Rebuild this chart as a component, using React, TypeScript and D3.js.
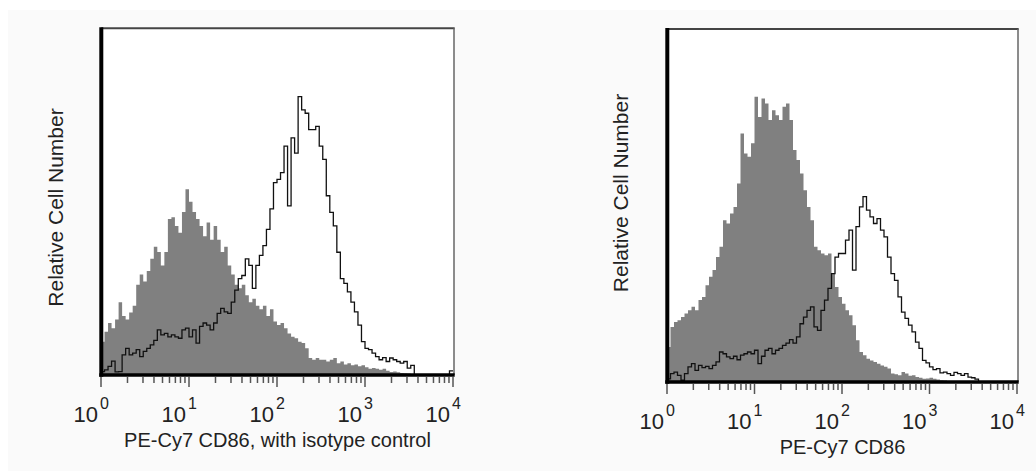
import React from "react";
import * as d3 from "d3";

// Histogram data: 100 log-spaced bins between 10^0 and 10^4, values as % of plot height
const leftIsotype = [
  9.6, 12.5, 15, 13.5, 16, 21, 17, 16, 18, 20,
  26, 29, 27, 30, 33.5, 37, 35.5, 31.6, 35.5, 45,
  45.5, 43, 41, 47, 53.6, 50, 47, 45, 43, 40,
  44, 39, 43, 39, 35.5, 37, 31.6, 29, 26, 25,
  26, 23, 21, 22, 20, 19, 20, 17, 19, 15.4,
  14.4, 15, 13.5, 12, 11, 10.6, 9.6, 9.2, 7.7, 4.9,
  4.4, 4.9, 4.4, 4.4, 3.9, 4.4, 4.9, 3.4, 3.9, 3,
  3.4, 2.8, 3, 2.5, 2.8, 2.2, 1.8, 2, 1.8, 1.5,
  1.8, 1.2, 0.9, 1, 0.8, 0.6, 0.5, 0.4, 0.3, 0.3,
  0.2, 0.2, 0.1, 0.1, 0, 0, 0, 0, 0, 0,
];
const leftStained = [
  1, 1.5, 2.5, 4, 0.9, 1, 5.8, 7.7, 5.8, 6.3,
  7.3, 5.3, 6.8, 7.7, 8.7, 10, 13, 11.6, 12, 11,
  11.6, 11, 10.6, 13, 13.5, 11, 13, 9.2, 14, 15,
  14.4, 13, 15, 17.8, 19.2, 18.2, 17.8, 21, 24.5, 27.8,
  28.7, 33.5, 31.6, 25, 31.6, 34.5, 37.3, 42, 47.9, 55.5,
  56.4, 58.4, 66, 48.8, 68.4, 64, 80.3, 76.5, 75.5, 70.8,
  70.8, 71.7, 66, 62.2, 51.7, 46.9, 43, 35.4, 27.8, 26.4,
  24, 21, 18.2, 14.4, 9.6, 7.7, 7.3, 6.3, 5.3, 4.4,
  5, 3.9, 4.9, 4.4, 3.9, 3.4, 3.9, 2, 2.8, 0,
  0, 0, 0, 0, 0, 0, 0, 0, 0, 1.2,
];
const rightIsotype = [
  9.9, 15.6, 17, 17.5, 18.4, 19.4, 20.3, 21.3, 20.3, 23.2,
  24.1, 27.4, 29.8, 31.7, 35.4, 38.3, 45.8, 44.9, 47.7, 49.6,
  56.2, 70.4, 64.7, 63.8, 67.6, 80.8, 75.1, 80.3, 78.9, 74.2,
  77, 75.6, 74.2, 78, 78.9, 74.2, 65.7, 62.9, 59.1, 54.3,
  49.6, 45.8, 38.3, 37.3, 36.4, 35.9, 36.4, 30.7, 26.9, 24.1,
  22.2, 20.3, 18.9, 16.1, 11.8, 8.5, 7.6, 6.6, 6.1, 5.7,
  5.2, 4.7, 4.3, 3.8, 2.4, 2.2, 1.9, 2.8, 2.4, 1.8,
  1.9, 1.4, 1.2, 0.9, 1, 1.2, 0.9, 0.7, 0.5, 0.4,
  0.3, 0.2, 0.2, 0.1, 0, 0, 0, 0, 0, 0,
  0, 0, 0, 0, 0, 0, 0, 0, 0, 0,
];
const rightStained = [
  0.9, 2.4, 2.8, 1.9, 0.5, 2.4, 4.3, 5.2, 3.3, 4.7,
  4.1, 4.4, 3.8, 4.7, 5.7, 8.5, 8, 7.1, 6.6, 7.3,
  6.3, 7.6, 8, 8.5, 8, 9, 5.2, 7.3, 9, 9.5,
  8, 9, 9.5, 10.4, 11, 12, 11, 12.8, 16.5, 18.4,
  20.3, 21.3, 15.6, 14.6, 20.3, 23.2, 26.5, 30.7, 35.4, 36.4,
  36.4, 40.2, 43, 31.7, 44, 49.6, 52.5, 48.7, 46.8, 44.9,
  46.3, 43, 41.1, 35.4, 30.7, 28.8, 24.1, 19.8, 18, 16.1,
  14.2, 11.3, 9.5, 6.1, 5.4, 4.3, 3.5, 3.8, 2.6, 2.8,
  2.4, 1.9, 2.7, 2.4, 1.9, 2.4, 1.4, 1.2, 0.8, 0,
  0, 0, 0, 0, 0, 0, 0, 0, 0, 0,
];

const decadeExponents = [0, 1, 2, 3, 4];
const minorMultipliers = [2, 3, 4, 5, 6, 7, 8, 9];
const yLabel = "Relative Cell Number";
const leftTitle = "PE-Cy7 CD86, with isotype control";
const rightTitle = "PE-Cy7 CD86";

const FONT = "'Liberation Sans', Arial, Helvetica, sans-serif";

type PanelProps = {
  x0: number;
  x1: number;
  top: number;
  bottom: number;
  right: number;
  filled: number[];
  outline: number[];
  title: string;
  yLabelX: number;
  yLabelY: number;
};

function toPoints(values: number[]) {
  const n = values.length;
  const pts = values.map((v, i) => ({ x: Math.pow(10, (4 * i) / n), v }));
  pts.push({ x: 1e4, v: values[n - 1] });
  return pts;
}

function Panel(p: PanelProps) {
  const x = d3.scaleLog().domain([1, 1e4]).range([p.x0, p.x1]);
  const y = d3.scaleLinear().domain([0, 100]).range([p.bottom, p.top]);
  const area = d3
    .area<{ x: number; v: number }>()
    .x((d) => x(d.x))
    .y0(p.bottom)
    .y1((d) => y(d.v))
    .curve(d3.curveStepAfter);
  const line = d3
    .line<{ x: number; v: number }>()
    .x((d) => x(d.x))
    .y((d) => y(d.v))
    .curve(d3.curveStepAfter);

  const minorTicks: number[] = [];
  decadeExponents.slice(0, 4).forEach((e) =>
    minorMultipliers.forEach((m) => minorTicks.push(m * Math.pow(10, e)))
  );
  const axisX = p.x0 + 0.3;
  return (
    <g>
      <rect x={axisX} y={p.top} width={p.right - axisX} height={p.bottom - p.top} fill="#ffffff" />
      <path d={area(toPoints(p.filled)) || ""} fill="#808080" />
      <path d={line(toPoints(p.outline)) || ""} fill="none" stroke="#111" strokeWidth={1.3} />
      {/* frame */}
      <line x1={axisX} x2={p.right + 0.7} y1={p.top} y2={p.top} stroke="#444" strokeWidth={2} />
      <line x1={p.right} x2={p.right} y1={p.top} y2={p.bottom} stroke="#666" strokeWidth={1.5} />
      <line x1={axisX} x2={axisX} y1={p.top - 1} y2={p.bottom + 1.7} stroke="#000" strokeWidth={4} />
      <line x1={axisX - 2} x2={p.right + 0.7} y1={p.bottom} y2={p.bottom} stroke="#000" strokeWidth={3.5} />
      {/* ticks */}
      {minorTicks.map((t) => (
        <line key={"m" + t} x1={x(t)} x2={x(t)} y1={p.bottom + 2} y2={p.bottom + 8} stroke="#555" strokeWidth={1.5} />
      ))}
      {decadeExponents.map((e) => (
        <line key={"M" + e} x1={x(Math.pow(10, e))} x2={x(Math.pow(10, e))} y1={p.bottom + 2} y2={p.bottom + 12} stroke="#555" strokeWidth={1.5} />
      ))}
      {decadeExponents.map((e) => {
        const tx = x(Math.pow(10, e));
        return (
          <g key={"L" + e} fill="#222" fontFamily={FONT}>
            <text x={tx - 3} y={p.bottom + 47} fontSize={22} textAnchor="end">10</text>
            <text x={tx - 1} y={p.bottom + 34} fontSize={16} textAnchor="start">{String(e)}</text>
          </g>
        );
      })}
      <text
        x={(p.x0 + p.right) / 2}
        y={p.bottom + 72}
        fontSize={20}
        textAnchor="middle"
        fontFamily={FONT}
        fill="#222"
      >
        {p.title}
      </text>
      <text
        transform={`translate(${p.yLabelX},${p.yLabelY}) rotate(-90)`}
        fontSize={21}
        textAnchor="middle"
        fontFamily={FONT}
        fill="#222"
      >
        {yLabel}
      </text>
    </g>
  );
}

export default function App() {
  return (
    <svg
      width={1036}
      height={471}
      style={{ position: "absolute", left: 0, top: 0, display: "block" }}
    >
      <rect x={0} y={0} width={1036} height={471} fill="#ffffff" />
      <rect x={8} y={10} width={1028} height={461} fill="#fafafa" />
      <Panel
        x0={101}
        x1={453}
        top={28.3}
        bottom={375}
        right={454}
        filled={leftIsotype}
        outline={leftStained}
        title={leftTitle}
        yLabelX={63}
        yLabelY={207.5}
      />
      <Panel
        x0={667}
        x1={1017}
        top={29}
        bottom={382}
        right={1018}
        filled={rightIsotype}
        outline={rightStained}
        title={rightTitle}
        yLabelX={628}
        yLabelY={193}
      />
    </svg>
  );
}
